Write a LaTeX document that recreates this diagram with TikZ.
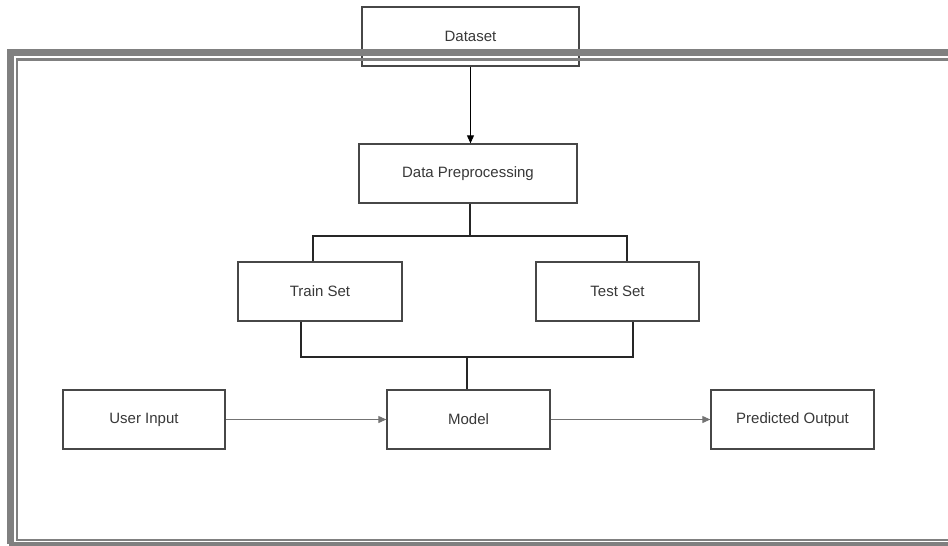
\documentclass[tikz,border=0pt]{standalone}
\usepackage{fontspec}
\setmainfont{Liberation Sans}
\usetikzlibrary{arrows.meta,positioning,calc}

\begin{document}
\begin{tikzpicture}[x=1pt, y=-1pt,
    blk/.style={draw=black!72, line width=1.3pt, minimum height=59pt, align=center, font=\fontsize{15}{18}\selectfont, text=black!78},
    arr/.style={-{Triangle[length=8pt,width=7pt]}, line width=1pt, draw=black!55},
    link/.style={line width=2.2pt, draw=black!85},
    outer/.style={draw=black!50, line width=7pt},
    inner/.style={draw=black!50, line width=2.2pt}
]
\useasboundingbox (0,0) rectangle (948,546);
\clip (0,0) rectangle (948,546);

% boxes
\node[blk, minimum width=217pt] (data) at (470.5,36.5) {Dataset};
\node[blk, minimum width=218pt, fill=white] (prep) at (468,173.5) {Data Preprocessing};
\node[blk, minimum width=164pt, fill=white] (train) at (320,291.5) {Train Set};
\node[blk, minimum width=163pt, fill=white] (test) at (617.5,291.5) {Test Set};
\node[blk, minimum width=162pt, fill=white] (user) at (144,419.5) {User Input};
\node[blk, minimum width=163pt, fill=white] (model) at (468.5,419.5) {Model};
\node[blk, minimum width=163pt, fill=white] (pred) at (792.5,419.5) {Predicted Output};

% split and join points
\coordinate (split) at ($(prep.south)+(2,32)$);
\coordinate (join) at (467,357);

\draw[-{Triangle[length=8pt,width=7pt]}, line width=0.9pt] (data.south) -- (data.south |- prep.north);
\draw[link] (split |- prep.south) -- (split);
\draw[link] ([xshift=-7pt]train.north) |- (split) -| ([xshift=9.5pt]test.north);
\draw[link] ([xshift=-19pt]train.south) |- (join) -| ([xshift=15.5pt]test.south);
\draw[link] (join) -- (join |- model.north);
\draw[arr] (user) -- (model);
\draw[arr] (model) -- (pred);

% page frame
\draw[outer] (960,52.5) -- (10.5,52.5) -- (10.5,544);
\draw[draw=black!50, line width=3.5pt] (9,544) -- (960,544);
\draw[inner] (960,59.5) -- (17,59.5) -- (17,540) -- (960,540);
\end{tikzpicture}
\end{document}
